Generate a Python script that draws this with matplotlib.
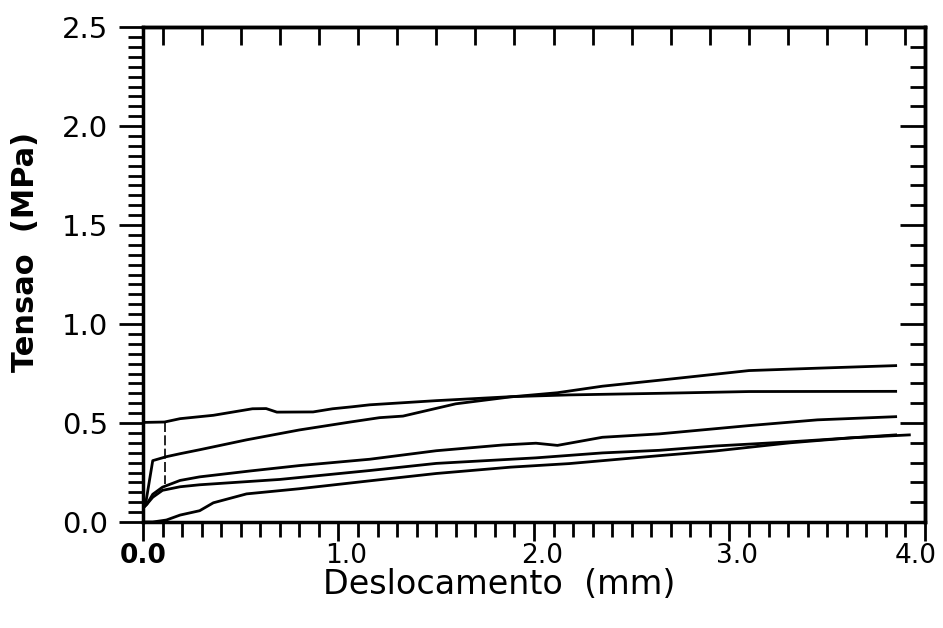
import numpy as np
import matplotlib.pyplot as plt
from matplotlib.transforms import ScaledTranslation

# Curvas tensao x deslocamento
curva_a_x = [0.0, 0.11, 0.19, 0.36, 0.56, 0.63, 0.685, 0.87, 0.97, 1.07, 1.16, 1.50, 1.88, 2.18, 2.64, 3.10, 3.85]
curva_a_y = [0.503, 0.505, 0.522, 0.539, 0.572, 0.573, 0.555, 0.556, 0.572, 0.582, 0.592, 0.613, 0.633, 0.642, 0.650, 0.659, 0.660]

curva_b_x = [0.0, 0.015, 0.05, 0.12, 0.19, 0.29, 0.53, 0.80, 1.06, 1.21, 1.33, 1.60, 1.88, 2.12, 2.35, 2.64, 3.10, 3.45, 3.85]
curva_b_y = [0.07, 0.10, 0.31, 0.33, 0.345, 0.365, 0.415, 0.465, 0.505, 0.527, 0.535, 0.597, 0.632, 0.653, 0.686, 0.716, 0.765, 0.777, 0.790]

curva_c_x = [0.0, 0.02, 0.05, 0.10, 0.19, 0.29, 0.55, 0.80, 1.16, 1.50, 1.84, 2.01, 2.12, 2.35, 2.64, 3.10, 3.45, 3.85]
curva_c_y = [0.07, 0.09, 0.14, 0.176, 0.21, 0.228, 0.258, 0.285, 0.317, 0.360, 0.389, 0.398, 0.387, 0.428, 0.445, 0.487, 0.516, 0.532]

curva_d_x = [0.0, 0.02, 0.05, 0.10, 0.19, 0.29, 0.70, 1.16, 1.50, 2.01, 2.35, 2.64, 2.93, 3.31, 3.62, 3.85]
curva_d_y = [0.07, 0.09, 0.125, 0.16, 0.178, 0.188, 0.215, 0.260, 0.296, 0.324, 0.349, 0.362, 0.384, 0.405, 0.425, 0.440]

curva_e_x = [0.0, 0.05, 0.12, 0.19, 0.29, 0.36, 0.53, 0.80, 1.16, 1.50, 1.88, 2.18, 2.64, 2.93, 3.31, 3.62, 3.92]
curva_e_y = [0.0, 0.0, 0.01, 0.035, 0.057, 0.097, 0.142, 0.168, 0.208, 0.245, 0.277, 0.295, 0.335, 0.359, 0.400, 0.425, 0.440]

# trecho vertical tracejado
trecho_x = [0.115, 0.115]
trecho_y = [0.505, 0.19]

xticks = [0.0, 1.0, 2.0, 3.0, 4.0]
xlabels = ["0.0", "1.0", "2.0", "3.0", "4.0"]
yticks = [0.0, 0.5, 1.0, 1.5, 2.0, 2.5]
ylabels = ["0.0", "0.5", "1.0", "1.5", "2.0", "2.5"]

fig = plt.figure(figsize=(9.43, 6.28), dpi=100)
ax = fig.add_axes([0.1516, 0.1688, 0.8293, 0.788])

for cx, cy in [(curva_a_x, curva_a_y), (curva_b_x, curva_b_y), (curva_c_x, curva_c_y),
               (curva_d_x, curva_d_y), (curva_e_x, curva_e_y)]:
    ax.plot(cx, cy, color="black", lw=2.0, solid_joinstyle="round")
ax.plot(trecho_x, trecho_y, color="black", lw=1.2, linestyle=(0, (6, 2)))

ax.set_xlim(0, 4.0)
ax.set_ylim(0, 2.5)

for s in ax.spines.values():
    s.set_linewidth(2.5)

# eixo inferior e esquerdo: marcas para fora
ax.set_xticks(xticks)
ax.set_xticklabels(xlabels, fontsize=19)
ax.set_xticks(np.arange(0, 4.01, 0.1), minor=True)
ax.set_yticks(yticks)
ax.set_yticklabels(ylabels, fontsize=21)
ax.set_yticks(np.arange(0, 2.51, 0.05), minor=True)
ax.tick_params(axis="x", which="both", direction="out", top=False, width=2)
ax.tick_params(axis="x", which="major", length=14, pad=1)
ax.tick_params(axis="x", which="minor", length=11)
ax.tick_params(axis="y", which="both", direction="out", right=False, width=2)
ax.tick_params(axis="y", which="major", length=17, pad=8)
ax.tick_params(axis="y", which="minor", length=11)

xl = ax.get_xticklabels()
xl[0].set_fontweight("bold")
for lab in xl[1:4]:
    lab.set_transform(lab.get_transform() + ScaledTranslation(8 / 100, 0, fig.dpi_scale_trans))
xl[4].set_transform(xl[4].get_transform() + ScaledTranslation(-9 / 100, 0, fig.dpi_scale_trans))

# eixo superior e direito: marcas para dentro
sx = ax.secondary_xaxis("top")
sx.set_xticks(np.arange(0.1, 4.0, 0.2))
sx.tick_params(direction="in", length=13, width=2, labeltop=False)
sx.spines["top"].set_linewidth(2.5)
sy = ax.secondary_yaxis("right")
sy.set_yticks(yticks)
sy.set_yticks(np.arange(0, 2.51, 0.1), minor=True)
sy.tick_params(which="major", direction="in", length=18, width=2, labelright=False)
sy.tick_params(which="minor", direction="in", length=11, width=2)
sy.spines["right"].set_linewidth(2.5)

ax.set_xlabel("Deslocamento  (mm)", fontsize=24)
ax.xaxis.set_label_coords(0.456, -0.093)
ax.set_ylabel("Tensao  (MPa)", fontsize=22, fontweight="bold")
ax.yaxis.set_label_coords(-0.132, 0.545)

plt.savefig("out.png", dpi=100)
